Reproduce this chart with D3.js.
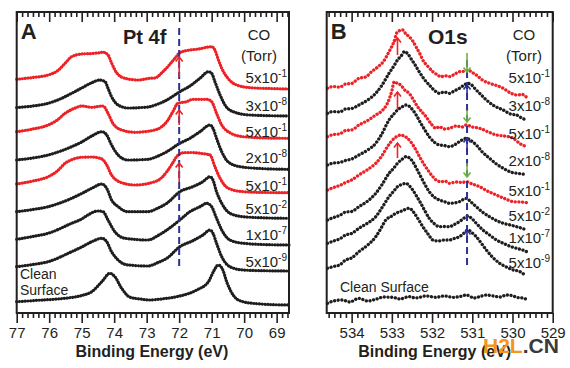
<!DOCTYPE html>
<html><head><meta charset="utf-8">
<script src="https://cdn.jsdelivr.net/npm/d3@7"></script>
<style>
body{margin:0;background:#fff}
svg{display:block}
text{font-family:"Liberation Sans",Arial,Helvetica,sans-serif;fill:#231f20}
</style>
</head><body>
<svg id="c" width="570" height="368"></svg>
<script>
// ===================== DATA =====================
// Panel A: Pt 4f  [binding energy (eV), intensity (arb., stacked)]
const pt_5e1_a = [[77,233.7],[76.5,235.5],[76.03,238],[75.75,242],[75.51,249.7],[75.31,256.3],[75.0,259],[74.7,259.5],[74.5,260],[74.34,260.7],[74.19,258],[74.08,250],[73.92,240],[73.67,234.7],[73.27,233],[72.90,234.7],[72.75,235],[72.50,241.3],[72.13,254.7],[71.98,260.3],[71.67,263],[71.4,264],[71.15,265.7],[71.0,266.3],[70.90,263],[70.81,254.7],[70.69,244.7],[70.50,234.7],[70.23,228],[69.82,225.3],[69.2,224.5],[68.62,224]];
const pt_3e8 = [[77,205.3],[76.5,207],[76.03,209.7],[75.7,213.5],[75.31,219.7],[75.0,225],[74.69,230.3],[74.44,233],[74.28,231.3],[74.19,224.7],[74.08,216.3],[73.88,208],[73.58,205],[72.96,206],[72.65,209],[72.38,213],[71.98,221.3],[71.67,227],[71.36,234.7],[71.10,241.3],[71.0,239.7],[70.90,231.3],[70.74,218],[70.59,208],[70.34,201.3],[69.82,198],[68.62,197]];
const pt_5e1_b = [[77,181.3],[76.5,184],[76.03,188],[75.75,193],[75.51,199.7],[75.2,205],[75.0,207],[74.69,205.7],[74.34,207],[74.19,199.7],[74.04,189.7],[73.77,183],[73.36,180.7],[72.75,183],[72.55,186],[72.38,191.3],[72.2,201],[72.04,209.7],[71.77,211.3],[71.58,213.7],[71.15,213.7],[71.0,211.3],[70.85,199.7],[70.69,188],[70.44,180.3],[70.04,176.3],[69.3,175],[68.62,174.7]];
const pt_2e8 = [[77,153],[76.5,155],[76.03,158],[75.31,166.3],[75.0,171],[74.69,177],[74.38,181.3],[74.23,178],[74.08,168],[73.88,158],[73.58,153],[72.96,153.7],[72.65,157],[72.38,161.3],[71.98,169.7],[71.67,174.7],[71.36,181.3],[71.05,188],[70.96,184.7],[70.85,174.7],[70.69,161.3],[70.50,151.3],[70.13,146.3],[69.5,144.5],[68.62,143.7]];
const pt_5e1_c = [[77,129],[76.5,132],[76.03,136.3],[75.75,142],[75.51,149.7],[75.25,154],[75.0,155.7],[74.7,156],[74.38,154],[74.23,148],[74.08,138],[73.77,130.3],[73.36,128],[72.75,131.3],[72.55,135],[72.38,141.3],[72.2,150],[72.08,156.3],[71.87,160.3],[71.6,160.5],[71.36,159.7],[71.05,158],[70.90,146.3],[70.74,134.7],[70.49,124.7],[70.04,121.3],[69.3,120.5],[68.62,120.3]];
const pt_5e2 = [[77,101.3],[76.5,103.5],[76.03,106.3],[75.31,114.7],[75.0,119.5],[74.69,124.7],[74.38,129],[74.23,124.7],[74.08,113],[73.88,106.3],[73.58,101.3],[72.96,101.3],[72.65,105],[72.38,109.7],[71.98,121.3],[71.58,126.3],[71.27,131.3],[71.05,136.3],[70.96,133],[70.85,121.3],[70.69,109.7],[70.44,99.7],[70.04,96.3],[69.4,95.2],[68.62,94.7]];
const pt_1e7 = [[77,73.7],[76.5,76.5],[76.03,79.7],[75.31,89.7],[75.0,94],[74.81,98],[74.50,102],[74.34,101.3],[74.19,93],[73.98,81.3],[73.67,74.7],[72.96,73],[72.65,77.5],[72.38,83],[71.98,93],[71.67,101.3],[71.36,106.3],[71.15,109.7],[71.0,106.3],[70.85,94.7],[70.69,83],[70.44,73],[70.04,69.7],[69.4,68.5],[68.62,68]];
const pt_5e9 = [[77,46.3],[76.5,48.5],[76.03,51.3],[75.31,61.3],[75.0,66],[74.69,71.3],[74.38,74.7],[74.23,71.3],[74.08,61.3],[73.88,53],[73.58,48],[72.96,47],[72.65,50.5],[72.38,54.7],[71.98,66.3],[71.58,72.3],[71.27,78],[71.05,83],[70.96,79.7],[70.85,69.7],[70.69,56.3],[70.44,46.3],[70.04,43],[69.4,42.3],[68.62,42]];
const pt_clean = [[77,11.3],[76.2,13],[75.51,14.7],[75.0,17.5],[74.69,21.3],[74.38,31.3],[74.13,39.7],[73.98,36.3],[73.77,24.7],[73.51,15.7],[73.2,14],[72.90,13],[72.5,14.2],[72.08,16.3],[71.46,23],[71.1,31.3],[70.92,43],[70.8,48],[70.68,44.7],[70.52,29.7],[70.3,16.3],[70.04,11.3],[69.5,9],[68.62,8]];

// Panel B: O 1s
const o_5e1_a = [[534.6,224.7],[534.45,226.5],[534.3,225.8],[534.15,229],[534.0,229.5],[533.82,234.7],[533.65,236],[533.5,241.5],[533.35,246],[533.2,252],[533.07,261.3],[532.95,271],[532.86,281.3],[532.73,283],[532.65,279],[532.57,276.3],[532.48,272],[532.40,266.3],[532.3,259],[532.23,253],[532.1,246.5],[531.98,241.3],[531.88,238.5],[531.78,236.3],[531.67,237.2],[531.57,236.3],[531.45,238.5],[531.32,241.3],[531.2,241.7],[531.11,243],[531.0,240.5],[530.90,238],[530.75,233],[530.57,229.7],[530.4,227.5],[530.23,224.7],[530.05,220],[529.90,218],[529.75,218.5],[529.65,215.7]];
const o_3e8 = [[534.6,199.7],[534.45,201.5],[534.3,201],[534.15,204],[534.0,204.5],[533.82,208],[533.6,213],[533.40,219.7],[533.25,227.5],[533.07,239.7],[532.95,247],[532.86,253],[532.75,258],[532.69,261.3],[532.6,259],[532.53,254.7],[532.42,248],[532.32,241.3],[532.2,234],[532.07,228],[531.90,221.3],[531.82,219.7],[531.7,221],[531.57,219.7],[531.45,222],[531.32,224.7],[531.2,228],[531.11,229.7],[531.0,227.5],[530.94,224.7],[530.8,219],[530.65,213],[530.45,207],[530.23,203],[530.05,199],[529.90,198],[529.75,194.5],[529.65,193]];
const o_5e1_b = [[534.6,176.3],[534.45,178.5],[534.3,179],[534.15,182.5],[534.0,183],[533.82,188],[533.6,192.5],[533.40,198],[533.25,202],[533.11,209.7],[533.0,222],[532.94,231.3],[532.86,229.5],[532.78,228],[532.68,223],[532.57,219.7],[532.46,213],[532.36,206.3],[532.25,201],[532.15,196.3],[532.02,189],[531.90,184.7],[531.82,186.3],[531.7,184],[531.57,184.7],[531.4,187],[531.25,186],[531.15,188],[531.0,186],[530.82,184.7],[530.6,181],[530.40,178],[530.2,177],[529.98,174.7],[529.8,169],[529.65,166.3]];
const o_2e8 = [[534.6,148],[534.45,150],[534.3,150.5],[534.15,152.5],[534.0,154],[533.82,158],[533.6,163],[533.40,169.7],[533.25,179],[533.07,193],[532.95,199],[532.86,203],[532.75,206],[532.65,208],[532.56,206.5],[532.48,203],[532.38,197],[532.28,189.7],[532.17,182.5],[532.07,176.3],[531.95,171],[531.82,168],[531.7,167.5],[531.57,166.3],[531.45,168],[531.32,171.3],[531.15,174.7],[531.02,172],[530.90,168],[530.75,161],[530.57,154.7],[530.4,149],[530.23,144.7],[530.05,141],[529.90,139.7],[529.75,139],[529.65,138]];
const o_5e1_c = [[534.6,123],[534.45,125.5],[534.3,127.5],[534.15,130.5],[534.0,133],[533.82,138],[533.6,143.5],[533.40,149.7],[533.25,157],[533.11,166.3],[532.94,174.7],[532.85,177],[532.78,178],[532.7,177],[532.61,174.7],[532.5,169.5],[532.40,163],[532.3,155.5],[532.19,148],[532.08,141.5],[531.98,136.3],[531.90,133],[531.78,131.3],[531.67,131.8],[531.57,129.7],[531.4,131],[531.25,130.5],[531.15,131.3],[531.0,129],[530.82,126.3],[530.6,121.5],[530.40,118],[530.2,114.5],[529.98,111.3],[529.8,111],[529.65,110.3]];
const o_5e2 = [[534.6,93],[534.45,95.5],[534.3,97.5],[534.15,101],[534.0,101.5],[533.82,106.3],[533.6,112],[533.40,119.7],[533.25,128],[533.07,139.7],[532.95,145],[532.86,149.7],[532.75,153.5],[532.65,156.3],[532.56,155],[532.48,151.3],[532.38,144],[532.28,136.3],[532.17,128],[532.07,121.3],[531.95,116],[531.82,113],[531.7,111.5],[531.57,109.7],[531.45,110],[531.32,111.3],[531.15,114.7],[531.02,110.5],[530.90,106.3],[530.75,101],[530.57,96.3],[530.4,92.5],[530.23,89.7],[530.05,88],[529.90,86.3],[529.75,84.5],[529.65,83]];
const o_1e7 = [[534.6,69.7],[534.45,72],[534.3,74],[534.15,78],[534.0,79.5],[533.82,84.7],[533.6,90],[533.40,96.3],[533.25,105],[533.07,116.3],[532.95,122],[532.86,126.3],[532.75,128.5],[532.65,129.7],[532.56,127],[532.48,123],[532.38,116.5],[532.28,109.7],[532.17,101.5],[532.07,94.7],[531.95,89.5],[531.82,86.3],[531.7,86.5],[531.57,86.3],[531.45,88.5],[531.32,91.3],[531.2,95],[531.11,97],[531.0,94],[530.90,89.7],[530.75,83.5],[530.57,78],[530.4,73],[530.23,69.7],[530.05,66.5],[529.90,64.7],[529.75,63],[529.65,61.3]];
const o_5e9 = [[534.6,44.7],[534.45,46.5],[534.3,48],[534.15,53],[534.0,55],[533.82,61.3],[533.6,68],[533.40,76.3],[533.28,84],[533.15,93],[533.0,97],[532.90,99.7],[532.75,102],[532.57,104.7],[532.5,103],[532.44,99.7],[532.33,93],[532.23,86.3],[532.1,79],[531.98,73],[531.85,72],[531.70,73],[531.57,73],[531.45,74.5],[531.32,76.3],[531.2,80],[531.11,83],[531.0,80],[530.90,76.3],[530.78,70],[530.65,63],[530.5,56],[530.32,49.7],[530.15,46],[529.98,43],[529.85,42],[529.69,38]];
const o_clean = [[534.6,9.7],[534.45,12],[534.23,13],[534.05,11],[533.82,14.7],[533.6,12],[533.40,13.7],[533.2,16],[532.98,15.7],[532.8,14],[532.57,16.3],[532.4,15],[532.15,17],[531.9,15.7],[531.7,17],[531.48,15.7],[531.3,16.5],[531.15,18],[530.95,15],[530.82,16.3],[530.65,18],[530.48,17],[530.3,16],[530.15,18],[529.98,17],[529.9,15.7],[529.75,15],[529.65,13.7]];

const seriesA = [pt_5e1_a, pt_3e8, pt_5e1_b, pt_2e8, pt_5e1_c, pt_5e2, pt_1e7, pt_5e9, pt_clean];
const seriesB = [o_5e1_a, o_3e8, o_5e1_b, o_2e8, o_5e1_c, o_5e2, o_1e7, o_5e9, o_clean];
const seriesKind = ["co","uhv","co","uhv","co","uhv","uhv","uhv","uhv"];
const pressureLabels = [["5x10","-1"],["3x10","-8"],["5x10","-1"],["2x10","-8"],["5x10","-1"],["5x10","-2"],["1x10","-7"],["5x10","-9"]];
const ticksA = [77,76,75,74,73,72,71,70,69];
const ticksB = [534,533,532,531,530,529];

// annotations: [energy, tail value, tip value]
const dashA = [72, 285, 45];
const redArrowsA = [[72,236,256],[72,188,203],[72,131,150]];
const dashB = [531.13, 253, 46];
const redArrowsB = [[532.86,258,275],[532.86,203,221],[532.86,155,170]];
const greenArrowsB = [[531.13,260,241],[531.13,203,191],[531.13,150,136]];
const navyArrowsB = [[531.13,215,228],[531.13,161,175],[531.13,71,83]];

// ===================== DRAW =====================
const RED = "#ec2227", BLACK = "#1e1e1e", NAVY = "#2e3192", GREEN = "#6cb33f", TXT = "#231f20";
const svg = d3.select("#c");
svg.append("rect").attr("width",570).attr("height",368).attr("fill","#fff");

function arrow(g, x, y, a, color){
  const xp = x(a[0]), y0 = y(a[1]), y1 = y(a[2]);
  const dir = y1 < y0 ? 1 : -1;
  g.append("line").attr("x1",xp).attr("x2",xp).attr("y1",y0).attr("y2",y1)
    .attr("stroke",color).attr("stroke-width",1.6);
  g.append("path").attr("d",`M${xp-3.5},${y1+4.5*dir}L${xp},${y1}L${xp+3.5},${y1+4.5*dir}`)
    .attr("fill","none").attr("stroke",color).attr("stroke-width",1.6).attr("stroke-linejoin","miter");
}

function panel(cfg){
  const g = svg.append("g");
  const x = d3.scaleLinear().domain(cfg.xDomain).range([cfg.left, cfg.right]);
  const y = d3.scaleLinear().domain([0,301]).range([cfg.bottom, cfg.top]);
  const line = d3.line().x(d=>x(d[0])).y(d=>y(d[1])).curve(d3.curveMonotoneX);

  cfg.series.forEach((s,i)=>{
    g.append("path").datum(s).attr("d",line).attr("fill","none")
      .attr("stroke", seriesKind[i]==="co" ? RED : BLACK)
      .attr("stroke-width", cfg.dotW).attr("stroke-linecap","round")
      .attr("stroke-dasharray", cfg.dash);
  });

  // dashed guide + arrows
  g.append("line").attr("x1",x(cfg.dashLine[0])).attr("x2",x(cfg.dashLine[0]))
    .attr("y1",y(cfg.dashLine[1])).attr("y2",y(cfg.dashLine[2]))
    .attr("stroke",NAVY).attr("stroke-width",2).attr("stroke-dasharray","7 4");
  cfg.arrows.forEach(([list,color])=>list.forEach(a=>arrow(g,x,y,a,color)));

  // axes
  const minors = [];
  const step = 1/cfg.minorDiv;
  const lo = Math.min(...cfg.xDomain), hi = Math.max(...cfg.xDomain);
  for (let v = Math.floor(lo); v <= hi + 1e-9; v += step){
    const vv = +v.toFixed(4);
    if (vv >= lo - 1e-6 && vv <= hi + 1e-6 && Math.abs(vv - Math.round(vv)) > 1e-3) minors.push(vv);
  }
  const mk = (size, vals, fmt) => d3.axisBottom(x).tickValues(vals).tickSize(size).tickPadding(4).tickFormat(fmt);
  // bottom (outward)
  const gb = g.append("g").attr("transform",`translate(0,${cfg.bottom})`).call(mk(10, cfg.ticks, d3.format("d")));
  const gbm = g.append("g").attr("transform",`translate(0,${cfg.bottom})`).call(mk(5, minors, ""));
  // top (inward)
  const gt = g.append("g").attr("transform",`translate(0,${cfg.top})`).call(mk(10, cfg.ticks, ""));
  const gtm = g.append("g").attr("transform",`translate(0,${cfg.top})`).call(mk(5, minors, ""));
  [gb,gbm,gt,gtm].forEach(a=>{a.select(".domain").remove(); a.selectAll("line").attr("stroke",TXT).attr("stroke-width",1.6);});
  gb.selectAll("text").attr("font-size",15).attr("fill","#1f2340").style("font-family",'"Liberation Sans",Arial,sans-serif');

  // frame
  g.append("rect").attr("x",cfg.left).attr("y",cfg.top).attr("width",cfg.right-cfg.left).attr("height",cfg.bottom-cfg.top)
    .attr("fill","none").attr("stroke",TXT).attr("stroke-width",2);

  // axis title
  g.append("text").attr("x",(cfg.left+cfg.right)/2 + cfg.titleShift).attr("y",357).attr("text-anchor","middle")
    .attr("font-size",16).attr("font-weight","bold").text("Binding Energy (eV)");

  // panel letter & element
  g.append("text").attr("x",cfg.left+4).attr("y",39).attr("font-size",22).attr("font-weight","bold").text(cfg.letter);
  g.append("text").attr("x",cfg.elemX).attr("y",44).attr("font-size",cfg.elemSize).attr("font-weight","bold").text(cfg.elem);

  // CO (Torr)
  g.append("text").attr("x",cfg.coX).attr("y",40).attr("text-anchor","middle").attr("font-size",15).text("CO");
  g.append("text").attr("x",cfg.coX).attr("y",61).attr("text-anchor","middle").attr("font-size",15).text("(Torr)");

  // pressure labels
  pressureLabels.forEach((p,i)=>{
    const t = g.append("text").attr("x",cfg.labelX).attr("y",cfg.labelY[i]).attr("text-anchor","end").attr("font-size",15);
    t.append("tspan").text(p[0]);
    t.append("tspan").attr("font-size",10).attr("dy",-6).text(p[1]);
  });

  cfg.clean(g);
}

panel({
  xDomain:[77,68.62], left:16.7, right:289, top:12, bottom:313,
  series: seriesA, dotW:3.2, dash:"0.1 2.7", minorDiv:6, ticks:ticksA, titleShift:-1,
  dashLine: dashA, arrows:[[redArrowsA,RED]],
  letter:"A", elem:"Pt 4f", elemX:123, elemSize:20, coX:259,
  labelX:287, labelY:[83,111,137,163,191,214,240,267],
  clean: g=>{
    g.append("text").attr("x",20).attr("y",279).attr("font-size",14).attr("fill","#1c2b4f").text("Clean");
    g.append("text").attr("x",20).attr("y",295).attr("font-size",14).attr("fill","#1c2b4f").text("Surface");
  }
});

panel({
  xDomain:[534.62,529.0], left:326.7, right:552.7, top:12, bottom:313,
  series: seriesB, dotW:3.3, dash:"0.1 3.6", minorDiv:7, ticks:ticksB, titleShift:-5,
  dashLine: dashB, arrows:[[redArrowsB,RED],[greenArrowsB,GREEN],[navyArrowsB,NAVY]],
  letter:"B", elem:"O1s", elemX:428, elemSize:21, coX:524,
  labelX:550, labelY:[83,111,139,166,196,221,243,268],
  clean: g=>{
    g.append("text").attr("x",340).attr("y",292).attr("font-size",14).attr("fill","#1c2b4f").text("Clean Surface");
  }
});

// watermark
const wm = svg.append("text").attr("x",483).attr("y",353).attr("font-size",21).attr("font-weight","bold");
wm.append("tspan").attr("fill","#f7941d").style("fill","#f7941d").text("H2L");
wm.append("tspan").attr("fill","#3a3a3a").style("fill","#3a3a3a").text(".CN");
</script>
</body></html>
